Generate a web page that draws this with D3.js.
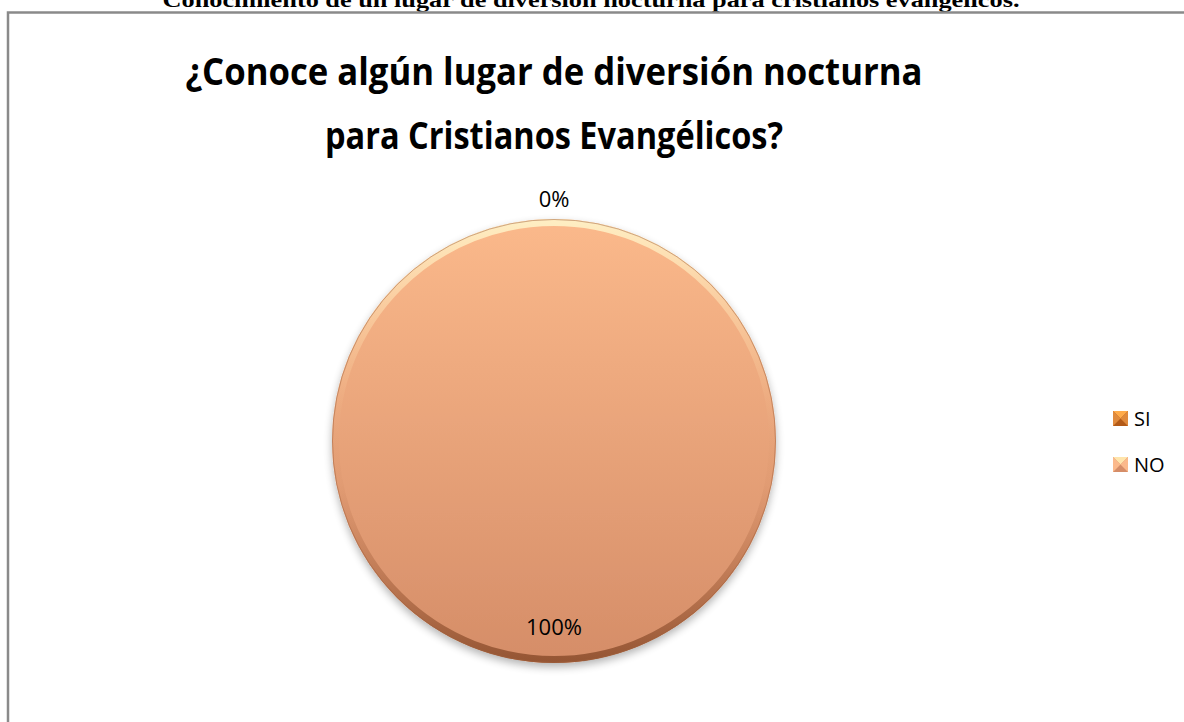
<!DOCTYPE html>
<html lang="es">
<head>
<meta charset="utf-8">
<title>Conocimiento de un lugar de diversión nocturna</title>
<style>
  body { margin: 0; background: #fff; }
  svg { display: block; }
  .caption { font-family: "Liberation Serif", "Times New Roman", serif; font-weight: bold; }
  .title { font-family: "Open Sans", sans-serif; font-weight: bold; fill: #000; }
  .lbl, .legend text { font-family: "Open Sans", sans-serif; fill: #000; }
</style>
</head>
<body>
<svg width="1184" height="722"></svg>
<script src="https://d3js.org/d3.v7.min.js"></script>
<script>

// data
var categories = ["SI", "NO"];
var values = [0, 100];
var titleLines = ["¿Conoce algún lugar de diversión nocturna", "para Cristianos Evangélicos?"];
var colorsTop = ["#e08a3c", "#fbb98b"];
var colorsBottom = ["#b35a17", "#d58d68"];

var svg = d3.select("svg"),
    width = +svg.attr("width"),
    height = +svg.attr("height");

var cx = 554, cy = 441, r = 222;

// caption above the frame (cut off at the top)
svg.append("text")
    .attr("class", "caption")
    .attr("x", 591).attr("y", 7)
    .attr("text-anchor", "middle")
    .attr("font-size", 22)
    .attr("textLength", 857)
    .attr("lengthAdjust", "spacingAndGlyphs")
    .text("Conocimiento de un lugar de diversión nocturna para cristianos evangélicos.");

// frame
svg.append("path")
    .attr("d", "M8," + (height + 5) + "V12.5H" + (width + 5))
    .attr("fill", "none")
    .attr("stroke", "#8a8a8a")
    .attr("stroke-width", 2.5);

// title (Calibri is narrower than Open Sans, so squeeze a bit)
var titleWidths = [737, 458];
svg.selectAll(".title")
  .data(titleLines)
  .enter().append("text")
    .attr("class", "title")
    .attr("text-anchor", "middle")
    .attr("font-size", 38)
    .attr("x", cx)
    .attr("y", function(d, i) { return 85 + i * 64; })
    .attr("textLength", function(d, i) { return titleWidths[i]; })
    .attr("lengthAdjust", "spacingAndGlyphs")
    .text(function(d) { return d; });

var defs = svg.append("defs");

categories.forEach(function(c, i) {
  var g = defs.append("linearGradient").attr("id", "grad" + i)
      .attr("x1", 0).attr("y1", 0).attr("x2", 0).attr("y2", 1);
  g.append("stop").attr("offset", "0%").attr("stop-color", colorsTop[i]);
  g.append("stop").attr("offset", "100%").attr("stop-color", colorsBottom[i]);
});

// bevel rim: light at top, dark at bottom
var rim = defs.append("linearGradient").attr("id", "rim")
    .attr("x1", 0).attr("y1", 0).attr("x2", 0).attr("y2", 1);
rim.append("stop").attr("offset", "0%").attr("stop-color", "#fff3c8").attr("stop-opacity", 0.9);
rim.append("stop").attr("offset", "40%").attr("stop-color", "#ffd9a8").attr("stop-opacity", 0.1);
rim.append("stop").attr("offset", "60%").attr("stop-color", "#a8603a").attr("stop-opacity", 0.05);
rim.append("stop").attr("offset", "100%").attr("stop-color", "#7a3e1e").attr("stop-opacity", 0.7);

var shadow = defs.append("filter").attr("id", "shadow")
    .attr("x", "-10%").attr("y", "-10%").attr("width", "120%").attr("height", "125%");
shadow.append("feGaussianBlur").attr("in", "SourceAlpha").attr("stdDeviation", 4);
shadow.append("feOffset").attr("dx", 0).attr("dy", 4).attr("result", "b");
shadow.append("feComponentTransfer").append("feFuncA").attr("type", "linear").attr("slope", 0.3);
var m = shadow.append("feMerge");
m.append("feMergeNode");
m.append("feMergeNode").attr("in", "SourceGraphic");

var pie = d3.pie().sort(null).value(function(d) { return d; });
var arcs = pie(values);
var arc = d3.arc().innerRadius(0).outerRadius(r);

var chart = svg.append("g").attr("transform", "translate(" + cx + "," + cy + ")");

chart.append("g").attr("filter", "url(#shadow)")
  .selectAll("path")
  .data(arcs)
  .enter().append("path")
    .attr("d", arc)
    .attr("fill", function(d, i) { return "url(#grad" + i + ")"; });

// bevel ring
chart.append("circle")
    .attr("r", r - 3.5)
    .attr("fill", "none")
    .attr("stroke", "url(#rim)")
    .attr("stroke-width", 7);
chart.append("circle")
    .attr("r", r - 0.5)
    .attr("fill", "none")
    .attr("stroke", "#a0603c")
    .attr("stroke-opacity", 0.5)
    .attr("stroke-width", 1);

// data labels
function labelPos(d) {
  var a = (d.startAngle + d.endAngle) / 2, rr = d.value === 0 ? r + 20 : r * 0.84;
  return [rr * Math.sin(a), -rr * Math.cos(a) + 8];
}
chart.selectAll(".lbl")
  .data(arcs)
  .enter().append("text")
    .attr("class", "lbl")
    .attr("text-anchor", "middle")
    .attr("font-size", 22)
    .attr("x", function(d) { return labelPos(d)[0]; })
    .attr("y", function(d) { return labelPos(d)[1]; })
    .text(function(d) { return Math.round(d.value / d3.sum(values) * 100) + "%"; });

// legend
var legend = svg.append("g").attr("class", "legend")
    .attr("transform", "translate(1113,411)");
var item = legend.selectAll("g")
  .data(categories)
  .enter().append("g")
    .attr("transform", function(d, i) { return "translate(0," + (i * 46) + ")"; });

item.append("rect")
    .attr("width", 15).attr("height", 15)
    .attr("fill", function(d, i) { return colorsBottom[i]; });
item.append("path")
    .attr("d", "M0,0H15L7.5,7.5Z")
    .attr("fill", function(d, i) { return d3.color(colorsTop[i]).brighter(0.6); });
item.append("path")
    .attr("d", "M0,0L7.5,7.5L0,15Z M15,0L7.5,7.5L15,15Z")
    .attr("fill", function(d, i) { return colorsTop[i]; });
item.append("text")
    .attr("x", 21).attr("y", 14.5)
    .attr("font-size", 20)
    .text(function(d) { return d; });

</script>
</body>
</html>
